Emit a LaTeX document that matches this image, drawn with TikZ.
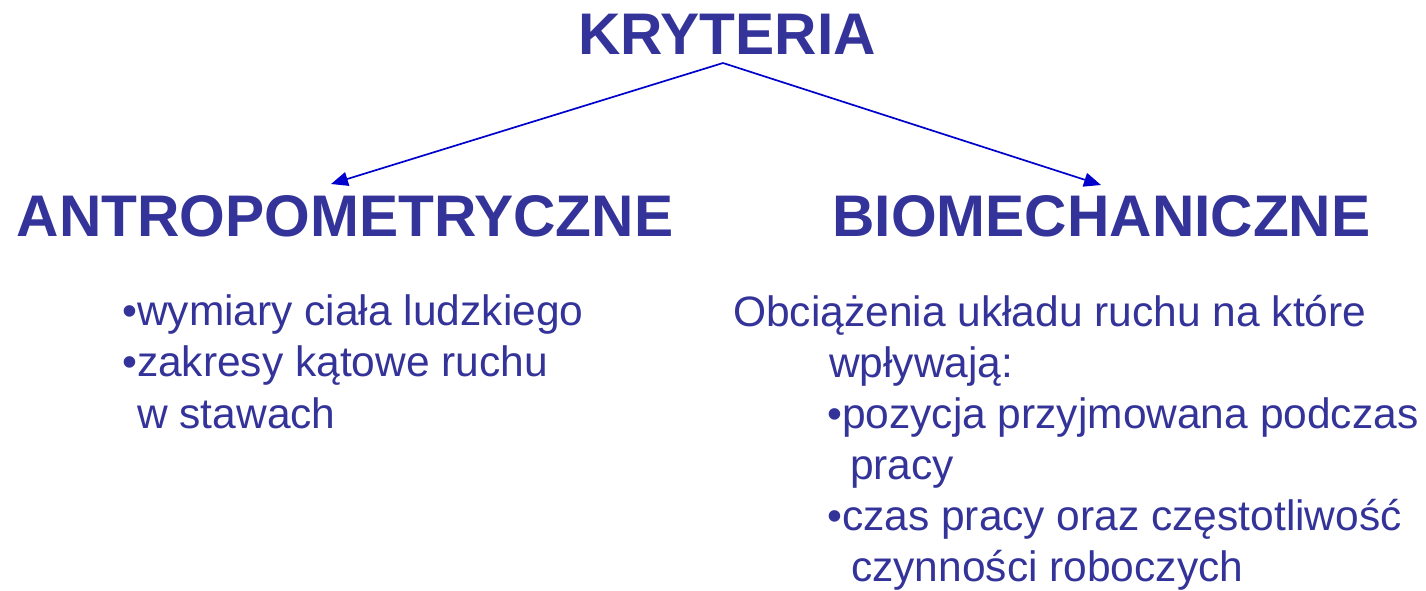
\documentclass[tikz,border=0pt]{standalone}
\usepackage{fontspec}
\setmainfont{Liberation Sans}
\usetikzlibrary{arrows.meta}
\definecolor{txt}{HTML}{333399}
\definecolor{arr}{HTML}{0000CC}
\begin{document}
\begin{tikzpicture}[x=1pt,y=-1pt,
  head/.style={font=\fontsize{58.7}{60}\selectfont\bfseries, text=txt, inner sep=0pt},
  body/.style={font=\fontsize{42.5}{50}\selectfont, text=txt, inner sep=0pt, anchor=base west},
  conn/.style={draw=arr, line width=1.7pt, -{Triangle[length=17pt,width=14pt]}}]
\useasboundingbox (0,0) rectangle (1426,590);
\node[head, anchor=base] (krit) at (727,54) {KRYTERIA};
\node[head, anchor=base] (anthro) at (345,236) {ANTROPOMETRYCZNE};
\node[head, anchor=base] (biomech) at (1101.5,236) {BIOMECHANICZNE};
\coordinate (apex) at (723,63);
\coordinate (tipL) at (331,184);
\coordinate (tipR) at (1101,185);
\draw[conn] (apex) -- (tipL);
\draw[conn] (apex) -- (tipR);
\node[body] (l1) at (122,325) {•wymiary ciała ludzkiego};
\node[body] (l2) at (122,376) {•zakresy kątowe ruchu};
\node[body] (l3) at (137,428) {w stawach};
\node[body] (r1) at (733,326) {Obciążenia układu ruchu na które};
\node[body] (r2) at (829,377) {wpływają:};
\node[body] (r3) at (827,428) {•pozycja przyjmowana podczas};
\node[body] (r4) at (850,479) {pracy};
\node[body] (r5) at (827,530) {•czas pracy oraz częstotliwość};
\node[body] (r6) at (851,581) {czynności roboczych};
\end{tikzpicture}
\end{document}
